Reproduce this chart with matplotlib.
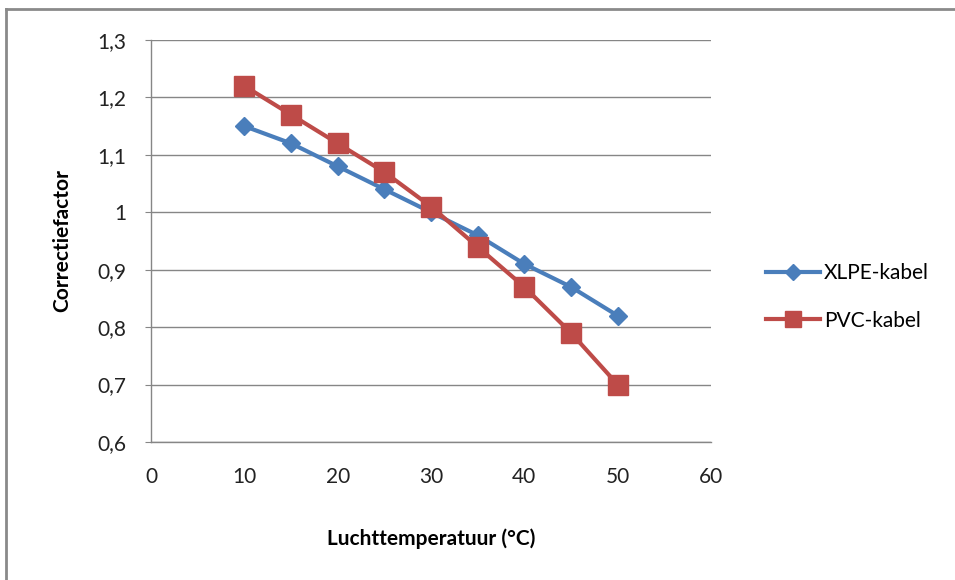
import matplotlib
matplotlib.use("Agg")
import matplotlib.pyplot as plt
from matplotlib.lines import Line2D

temperature = [10, 15, 20, 25, 30, 35, 40, 45, 50]
xlpe = [1.15, 1.12, 1.08, 1.04, 1.00, 0.96, 0.91, 0.87, 0.82]
pvc = [1.22, 1.17, 1.12, 1.07, 1.01, 0.94, 0.87, 0.79, 0.70]
series_names = ["XLPE-kabel", "PVC-kabel"]
x_ticks = [0, 10, 20, 30, 40, 50, 60]
y_ticks = [0.6, 0.7, 0.8, 0.9, 1.0, 1.1, 1.2, 1.3]
y_tick_labels = ["0,6", "0,7", "0,8", "0,9", "1", "1,1", "1,2", "1,3"]
x_label = "Luchttemperatuur (°C)"
y_label = "Correctiefactor"

plt.rcParams['font.family'] = ['Lato', 'DejaVu Sans']

fig = plt.figure(figsize=(9.55, 5.8), dpi=100)
ax = fig.add_axes([151/955, 1-442/580, (711-151)/955, (442-40)/580])

blue = "#4A7EBB"
red = "#BE4B48"
grid = "#868686"

l1, = ax.plot(temperature, xlpe, color=blue, lw=3, marker='D', ms=9.5,
              label=series_names[0], zorder=3)
l2, = ax.plot(temperature, pvc, color=red, lw=3, marker='s', ms=14,
              label=series_names[1], zorder=4)

ax.set_xlim(0, 60)
ax.set_ylim(0.6, 1.3)
ax.set_xticks(x_ticks)
ax.set_xticklabels([str(v) for v in x_ticks])
ax.set_yticks(y_ticks)
ax.set_yticklabels(y_tick_labels)
ax.yaxis.grid(True, color=grid, lw=1)
ax.set_axisbelow(True)
for s in ['top', 'right']:
    ax.spines[s].set_visible(False)
for s in ['left', 'bottom']:
    ax.spines[s].set_color(grid)
    ax.spines[s].set_linewidth(1)
ax.tick_params(axis='x', length=0, pad=18, labelsize=15, labelcolor='#222222')
ax.tick_params(axis='y', length=4, color=grid, pad=14, labelsize=15, labelcolor='#222222')

ax.set_xlabel(x_label, fontsize=15, fontweight='bold', labelpad=30)
ax.set_ylabel(y_label, fontsize=15, fontweight='bold', labelpad=18)

fig.legend(handles=[l1, l2], loc='center left', bbox_to_anchor=(747/955, 1-297/580),
           frameon=False, fontsize=15, handlelength=2.6, handletextpad=0.2,
           labelspacing=1.3, markerscale=0.85)

border = dict(transform=fig.transFigure, color="#8a8a8a", lw=2)
fig.add_artist(Line2D([6/955, 1], [1-9/580, 1-9/580], **border))
fig.add_artist(Line2D([6/955, 6/955], [0, 1-9/580], **border))

fig.savefig("out.png", dpi=100)
